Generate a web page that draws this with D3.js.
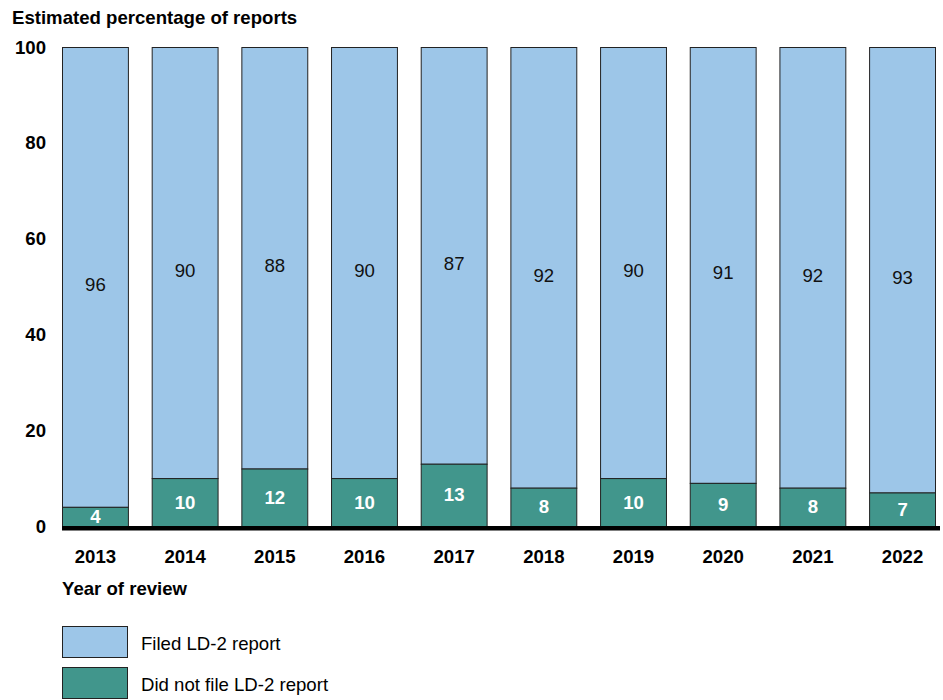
<!DOCTYPE html>
<html><head><meta charset="utf-8">
<script src="https://cdn.jsdelivr.net/npm/d3@7"></script>
<style>
body{margin:0;background:#fff;}
svg{display:block;font-family:"Liberation Sans",Arial,sans-serif;}
</style></head>
<body><svg id="c" width="943" height="700"></svg>
<script>
const years = ["2013","2014","2015","2016","2017","2018","2019","2020","2021","2022"];
const filed = [96,90,88,90,87,92,90,91,92,93];
const notFiled = [4,10,12,10,13,8,10,9,8,7];
const yTicks = [0,20,40,60,80,100];
const seriesNames = ["Filed LD-2 report","Did not file LD-2 report"];
const colors = ["#9dc6e8","#41968c"];
const FS = 18.6;

const svg = d3.select("#c");
const x = d3.scaleBand().domain(years).range([62,936]).paddingInner(0.254).paddingOuter(0);
const y = d3.scaleLinear().domain([0,100]).range([526,47]);

svg.append("text").attr("x",12).attr("y",17).attr("dy","0.35em").attr("font-size",FS).attr("font-weight","bold").text("Estimated percentage of reports");

svg.append("g").selectAll("text").data(yTicks).join("text")
  .attr("x",46).attr("y",d=>y(d)).attr("dy","0.35em").attr("text-anchor","end")
  .attr("font-size",FS).attr("font-weight","bold").text(d=>d);

const g = svg.append("g");
years.forEach((yr,i)=>{
  const bx = x(yr), bw = x.bandwidth();
  g.append("rect").attr("x",bx+0.5).attr("y",y(notFiled[i]+filed[i])+0.5).attr("width",bw-1)
    .attr("height",y(notFiled[i])-y(notFiled[i]+filed[i])).attr("fill",colors[0]).attr("stroke","#222").attr("stroke-width",1);
  g.append("rect").attr("x",bx+0.5).attr("y",y(notFiled[i])+0.5).attr("width",bw-1)
    .attr("height",y(0)-y(notFiled[i])).attr("fill",colors[1]).attr("stroke","#222").attr("stroke-width",1);
  g.append("text").attr("x",bx+bw/2).attr("y",y(notFiled[i]+filed[i]/2)+8).attr("dy","0.35em")
    .attr("text-anchor","middle").attr("font-size",FS).attr("fill","#111").text(filed[i]);
  g.append("text").attr("x",bx+bw/2).attr("y",y(notFiled[i]/2)).attr("dy","0.35em")
    .attr("text-anchor","middle").attr("font-size",FS).attr("font-weight","bold").attr("fill","#fff").text(notFiled[i]);
});

svg.append("rect").attr("x",62).attr("y",y(0)).attr("width",878).attr("height",4.5).attr("fill","#000");

svg.append("g").selectAll("text").data(years).join("text")
  .attr("x",d=>x(d)+x.bandwidth()/2).attr("y",556).attr("dy","0.35em").attr("text-anchor","middle")
  .attr("font-size",FS).attr("font-weight","bold").text(d=>d);

svg.append("text").attr("x",62).attr("y",588).attr("dy","0.35em").attr("font-size",FS).attr("font-weight","bold").text("Year of review");

const lg = svg.append("g");
seriesNames.forEach((n,i)=>{
  const ly = 626 + i*41;
  lg.append("rect").attr("x",62.5).attr("y",ly+0.5).attr("width",65).attr("height",31).attr("fill",colors[i]).attr("stroke","#222");
  lg.append("text").attr("x",141).attr("y",ly+17).attr("dy","0.35em").attr("font-size",FS).text(n);
});
</script></body></html>
